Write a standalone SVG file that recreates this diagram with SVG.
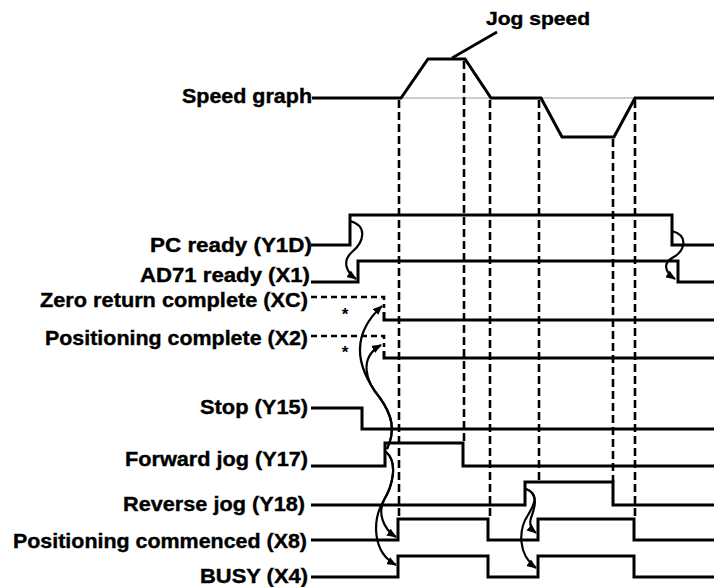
<svg xmlns="http://www.w3.org/2000/svg" width="714" height="587" viewBox="0 0 714 587">
<style>
  .lbl { font-family: "Liberation Sans", Arial, sans-serif; font-weight: bold; font-size: 21px; fill: #000; stroke: #000; stroke-width: 0.4; }
  .sig { fill: none; stroke: #000; stroke-width: 3; stroke-linejoin: miter; }
  .dsig { fill: none; stroke: #000; stroke-width: 2.6; stroke-dasharray: 6 4; }
  .vdash { fill: none; stroke: #000; stroke-width: 2.6; stroke-dasharray: 8 4; }
  .base { fill: none; stroke: #999; stroke-width: 1; }
  .arr { fill: none; stroke: #000; stroke-width: 2.2; marker-end: url(#ah); }
  .ast { font-family: "Liberation Sans", Arial, sans-serif; font-weight: bold; font-size: 17px; text-anchor: middle; }
</style>
<defs>
  <marker id="ah" markerUnits="userSpaceOnUse" markerWidth="10" markerHeight="8" refX="9" refY="4" orient="auto">
    <path d="M0,0 L10,4 L0,8 z" fill="#000"/>
  </marker>
</defs>
<rect width="714" height="587" fill="#fff"/>

<g id="speed-graph">
  <text class="lbl" x="182" y="103" textLength="130" lengthAdjust="spacingAndGlyphs">Speed graph</text>
  <path class="base" d="M401,98 H491 M541,98 H635"/>
  <path class="sig" d="M312,98 H401 L428,59 H465 L491,98 H541 L562,137 H614 L635,98 H714"/>
  <text class="lbl" x="486" y="25" style="font-size:19px" textLength="104" lengthAdjust="spacingAndGlyphs">Jog speed</text>
  <path d="M497,32 L452,58" fill="none" stroke="#000" stroke-width="2.6"/>
</g>

<g id="timing-guides">
  <path class="vdash" d="M399,100 V519 M464,61 V443 M490,100 V519 M539,100 V480 M613,139 V482 M635,100 V519"/>
</g>

<g id="pc-ready">
  <text class="lbl" x="150" y="252" textLength="162" lengthAdjust="spacingAndGlyphs">PC ready (Y1D)</text>
  <path class="sig" d="M311,245 H350 V215 H672 V245 H714"/>
</g>

<g id="ad71-ready">
  <text class="lbl" x="140" y="282" textLength="170" lengthAdjust="spacingAndGlyphs">AD71 ready (X1)</text>
  <path class="sig" d="M311,282 H358 V261 H678 V282 H714"/>
</g>

<g id="zero-return">
  <text class="lbl" x="40" y="307" textLength="268" lengthAdjust="spacingAndGlyphs">Zero return complete (XC)</text>
  <path class="dsig" d="M311,297 H384 V308"/>
  <path class="sig" d="M384,312 V320 H714"/>
  <text class="ast" x="345" y="320">*</text>
</g>

<g id="pos-complete">
  <text class="lbl" x="45" y="345" textLength="263" lengthAdjust="spacingAndGlyphs">Positioning complete (X2)</text>
  <path class="dsig" d="M311,336 H384 V347"/>
  <path class="sig" d="M384,351 V358 H714"/>
  <text class="ast" x="345" y="358">*</text>
</g>

<g id="stop">
  <text class="lbl" x="200" y="414" textLength="108" lengthAdjust="spacingAndGlyphs">Stop (Y15)</text>
  <path class="sig" d="M311,408 H362 V429 H714"/>
</g>

<g id="forward-jog">
  <text class="lbl" x="125" y="466" textLength="183" lengthAdjust="spacingAndGlyphs">Forward jog (Y17)</text>
  <path class="sig" d="M311,466 H385 V443 H463 V466 H714"/>
</g>

<g id="reverse-jog">
  <text class="lbl" x="123" y="511" textLength="182" lengthAdjust="spacingAndGlyphs">Reverse jog (Y18)</text>
  <path class="sig" d="M311,505 H525 V482 H613 V505 H714"/>
</g>

<g id="pos-commenced">
  <text class="lbl" x="13" y="548" textLength="294" lengthAdjust="spacingAndGlyphs">Positioning commenced (X8)</text>
  <path class="sig" d="M311,540 H398 V519 H488 V540 H538 V519 H634 V540 H714"/>
</g>

<g id="busy">
  <text class="lbl" x="200" y="583" textLength="108" lengthAdjust="spacingAndGlyphs">BUSY (X4)</text>
  <path class="sig" d="M311,577 H398 V556 H488 V577 H538 V556 H634 V577 H714"/>
</g>

<g id="connectors">
  <path class="arr" d="M350,221 C368,226 364,242 352,252 C342,261 346,272 356,279"/>
  <path class="arr" d="M672,231 C690,236 684,252 672,258 C662,264 666,273 675,279"/>
  <path class="arr" d="M387,449 C396,430 392,415 380,398 C362,375 345,340 382,306"/>
  <path class="arr" d="M387,449 C396,430 392,415 380,398 C366,382 358,358 381,345"/>
  <path class="arr" d="M386,452 C398,462 393,485 384,500 C378,512 382,528 396,537"/>
  <path class="arr" d="M386,452 C398,462 393,485 384,500 C372,520 372,552 396,565"/>
  <path class="arr" d="M526,489 C540,494 534,510 531,518 C529,524 531,529 536,533"/>
  <path class="arr" d="M526,489 C540,494 534,505 528,515 C518,530 518,555 536,568"/>
</g>
</svg>
